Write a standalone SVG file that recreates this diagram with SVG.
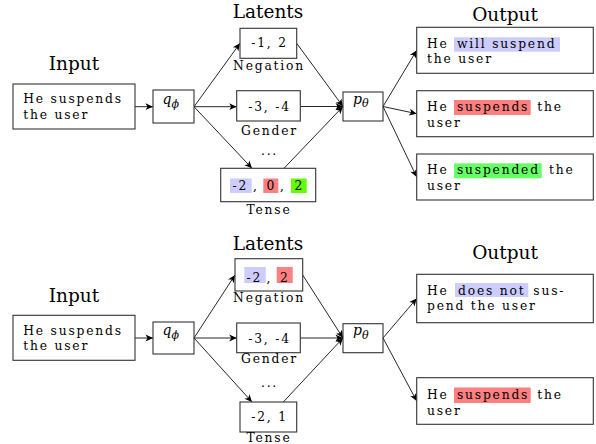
<svg xmlns="http://www.w3.org/2000/svg" width="596" height="444" viewBox="0 0 596 444">
<defs>
<marker id="arr" markerUnits="userSpaceOnUse" markerWidth="10" markerHeight="10" viewBox="-8 -5 10 10" refX="0" refY="0" orient="auto">
<path d="M-7.5,-3.4 L0,0 L-7.5,3.4 L-5.5,0 Z" fill="#000"/>
</marker>
</defs>
<style>
.box{fill:#fff;stroke:#333;stroke-width:1.1}
.t{font-family:"DejaVu Serif",serif;font-size:12.3px;letter-spacing:1.8px;fill:#000}
.c{text-anchor:middle}
.h{font-family:"DejaVu Serif",serif;font-size:18.5px;fill:#000;text-anchor:middle}
.m{font-family:"DejaVu Serif",serif;font-style:italic;font-size:14px;fill:#000}
.e line{stroke:#000;stroke-width:0.85;marker-end:url(#arr)}
.blue{fill:#ccccff}.red{fill:#ff8080}.green{fill:#66ff66}.lime{fill:#66ff00}
</style>
<rect width="596" height="444" fill="#fff"/>

<!-- headers -->
<text class="h" x="74" y="70">Input</text>
<text class="h" x="268" y="17.7">Latents</text>
<text class="h" x="505" y="20.7">Output</text>
<text class="h" x="74" y="302">Input</text>
<text class="h" x="268" y="250.3">Latents</text>
<text class="h" x="505" y="259.3">Output</text>

<g class="e" id="connectors">
<line x1="135" y1="106.7" x2="153" y2="106.7"/>
<line x1="194" y1="106.7" x2="240" y2="43.3"/>
<line x1="194" y1="106.7" x2="236.7" y2="106.7"/>
<line x1="194" y1="106.7" x2="252" y2="168.3"/>
<line x1="296.7" y1="43.3" x2="343" y2="106.5"/>
<line x1="300.3" y1="106.5" x2="343" y2="106.5"/>
<line x1="284" y1="168.3" x2="343" y2="106.5"/>
<line x1="383" y1="106.5" x2="416.7" y2="50.3"/>
<line x1="383" y1="106.5" x2="416.7" y2="113.7"/>
<line x1="383" y1="106.5" x2="416.7" y2="177"/>

<line x1="135" y1="338" x2="153" y2="338"/>
<line x1="194" y1="338" x2="235" y2="275"/>
<line x1="194" y1="338" x2="236.7" y2="338"/>
<line x1="194" y1="338" x2="252" y2="402"/>
<line x1="302.7" y1="275" x2="343" y2="338"/>
<line x1="300.3" y1="338" x2="343" y2="338"/>
<line x1="283.3" y1="402" x2="343" y2="338"/>
<line x1="383" y1="338" x2="416.7" y2="298.5"/>
<line x1="383" y1="338" x2="416.7" y2="401"/>
</g>

<!-- top row -->
<g id="input1">
<rect class="box" x="13" y="84" width="122" height="45"/>
<text class="t" x="23.3" y="103.3">He suspends</text>
<text class="t" x="23.3" y="119.3">the user</text>
</g>
<g id="q1">
<rect class="box" x="153" y="90" width="41" height="33"/>
<text class="m" x="162.5" y="103.5">q<tspan font-size="11" dy="4">ϕ</tspan></text>
</g>
<g id="neg1">
<rect class="box" x="240" y="28.3" width="56.7" height="30"/>
<text class="t c" x="269.5" y="47">-1, 2</text>
<text class="t c" x="269" y="69.5">Negation</text>
</g>
<g id="gender1">
<rect class="box" x="236.7" y="90.7" width="63.6" height="30.3"/>
<text class="t c" x="269.5" y="110.7">-3, -4</text>
<text class="t c" x="269.5" y="135">Gender</text>
</g>
<text class="t c" x="269.5" y="155">...</text>
<g id="tense1">
<rect class="box" x="220.7" y="168.3" width="95" height="33.4"/>
<rect class="blue" x="230" y="178.5" width="21.7" height="14.5"/>
<rect class="red" x="263.3" y="178.5" width="15" height="14.5"/>
<rect class="lime" x="291" y="178.5" width="15.7" height="14.5"/>
<text class="t" x="232.5" y="190">-2</text>
<text class="t" x="253" y="190">,</text>
<text class="t" x="266.5" y="190">0</text>
<text class="t" x="280" y="190">,</text>
<text class="t" x="294.5" y="190">2</text>
<text class="t c" x="269" y="214">Tense</text>
</g>
<g id="p1">
<rect class="box" x="343" y="92" width="40" height="29"/>
<text class="m" x="353" y="103.5">p<tspan font-size="11" dy="3.5">θ</tspan></text>
</g>
<g id="out1a">
<rect class="box" x="416.7" y="27.3" width="176.6" height="46"/>
<rect class="blue" x="454" y="37.3" width="106" height="14.4"/>
<text class="t" x="427" y="48.3">He</text>
<text class="t" x="457" y="48.3">will suspend</text>
<text class="t" x="427" y="63.3">the user</text>
</g>
<g id="out1b">
<rect class="box" x="416.7" y="90.7" width="176.6" height="46"/>
<rect class="red" x="454" y="100" width="76.7" height="15"/>
<text class="t" x="427" y="110.7">He</text>
<text class="t" x="457" y="110.7">suspends</text>
<text class="t" x="537.3" y="110.7">the</text>
<text class="t" x="427" y="126.7">user</text>
</g>
<g id="out1c">
<rect class="box" x="416.7" y="154" width="176.6" height="46"/>
<rect class="green" x="454" y="163.3" width="87.7" height="15"/>
<text class="t" x="427" y="174">He</text>
<text class="t" x="457" y="174">suspended</text>
<text class="t" x="549" y="174">the</text>
<text class="t" x="427" y="190">user</text>
</g>

<!-- bottom row -->
<g id="input2">
<rect class="box" x="13" y="315.3" width="122" height="45"/>
<text class="t" x="23.3" y="334.7">He suspends</text>
<text class="t" x="23.3" y="350.3">the user</text>
</g>
<g id="q2">
<rect class="box" x="153" y="322" width="41" height="32"/>
<text class="m" x="162.5" y="335">q<tspan font-size="11" dy="4">ϕ</tspan></text>
</g>
<g id="neg2">
<rect class="box" x="235" y="258.7" width="67.7" height="32.3"/>
<rect class="blue" x="244.3" y="267" width="21.4" height="16"/>
<rect class="red" x="276.7" y="267" width="16" height="16"/>
<text class="t" x="246.5" y="281.5">-2</text>
<text class="t" x="266.5" y="281.5">,</text>
<text class="t" x="280" y="281.5">2</text>
<text class="t c" x="269" y="301.5">Negation</text>
</g>
<g id="gender2">
<rect class="box" x="236.7" y="323" width="63.6" height="29.7"/>
<text class="t c" x="269.5" y="342.7">-3, -4</text>
<text class="t c" x="269.5" y="362.5">Gender</text>
</g>
<text class="t c" x="269.5" y="387">...</text>
<g id="tense2">
<rect class="box" x="240" y="402" width="56.7" height="30"/>
<text class="t c" x="269.5" y="420.5">-2, 1</text>
<text class="t c" x="269" y="442">Tense</text>
</g>
<g id="p2">
<rect class="box" x="343" y="323.7" width="40" height="29"/>
<text class="m" x="353" y="335">p<tspan font-size="11" dy="3.5">θ</tspan></text>
</g>
<g id="out2a">
<rect class="box" x="416.7" y="274.3" width="176.6" height="48.4"/>
<rect class="blue" x="455" y="283" width="73.3" height="14"/>
<text class="t" x="427" y="294.7">He</text>
<text class="t" x="458" y="294.7">does not</text>
<text class="t" x="533.3" y="294.7">sus-</text>
<text class="t" x="427" y="310.3">pend the user</text>
</g>
<g id="out2b">
<rect class="box" x="416.7" y="377.7" width="176.6" height="46.6"/>
<rect class="red" x="454" y="387.5" width="76.7" height="15.5"/>
<text class="t" x="427" y="398.7">He</text>
<text class="t" x="457" y="398.7">suspends</text>
<text class="t" x="537.3" y="398.7">the</text>
<text class="t" x="427" y="414.7">user</text>
</g>
</svg>
